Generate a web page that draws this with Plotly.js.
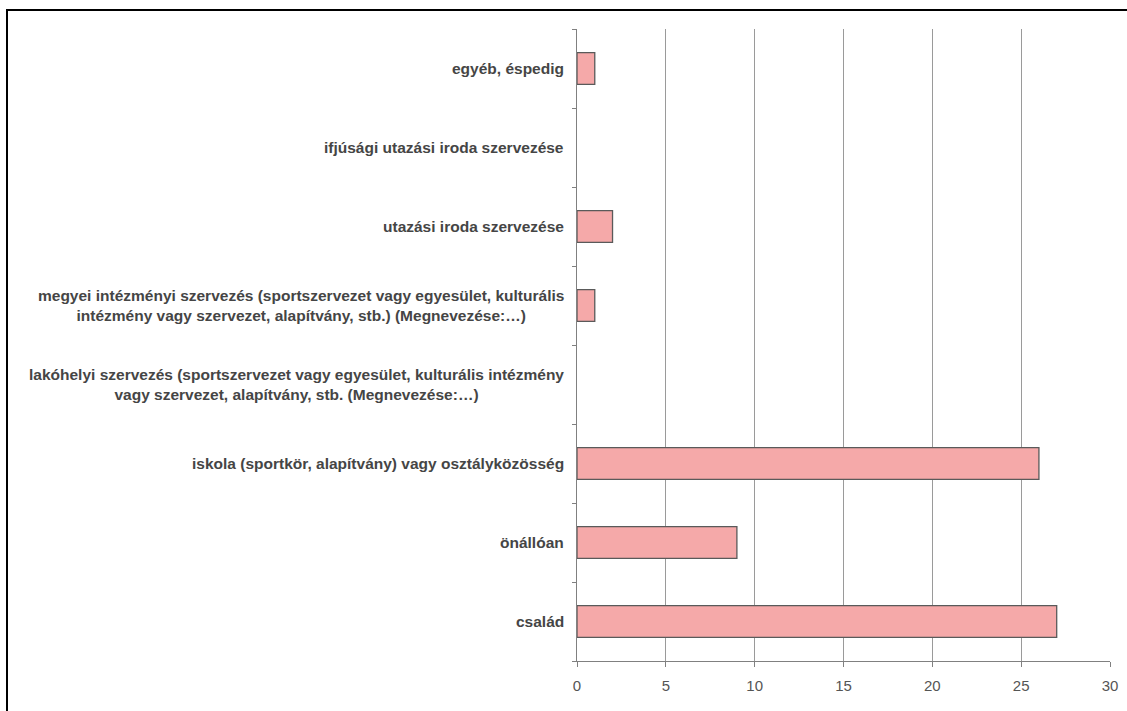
<!DOCTYPE html>
<html>
<head>
<meta charset="utf-8">
<script src="https://cdn.plot.ly/plotly-3.0.1.min.js"></script>
<style>
  html, body { margin: 0; padding: 0; background: #fff; }
  #frame { position: absolute; left: 6px; top: 9px; width: 1140px; height: 720px;
           border-left: 2px solid #000; border-top: 2px solid #000; }
  #chart { position: absolute; left: 0; top: 0; width: 1127px; height: 711px; }
</style>
</head>
<body>
<div id="frame"></div>
<div id="chart"></div>
<script>
// categories bottom to top
const categories = [
  "család",
  "önállóan",
  "iskola (sportkör, alapítvány) vagy osztályközösség",
  "lakóhelyi szervezés (sportszervezet vagy egyesület, kulturális intézmény vagy szervezet, alapítvány, stb. (Megnevezése:…)",
  "megyei intézményi szervezés (sportszervezet vagy egyesület, kulturális intézmény vagy szervezet, alapítvány, stb.) (Megnevezése:…)",
  "utazási iroda szervezése",
  "ifjúsági utazási iroda szervezése",
  "egyéb, éspedig"
];
const labelText = [
  "család",
  "önállóan",
  "iskola (sportkör, alapítvány) vagy osztályközösség",
  "lakóhelyi szervezés (sportszervezet vagy egyesület, kulturális intézmény<br>vagy szervezet, alapítvány, stb. (Megnevezése:…)",
  "megyei intézményi szervezés (sportszervezet vagy egyesület, kulturális<br>intézmény vagy szervezet, alapítvány, stb.) (Megnevezése:…)",
  "utazási iroda szervezése",
  "ifjúsági utazási iroda szervezése",
  "egyéb, éspedig"
];
const values = [27, 9, 26, 0, 1, 2, 0, 1];
const xTicks = [0, 5, 10, 15, 20, 25, 30];

const trace = {
  type: 'bar',
  orientation: 'h',
  y: categories,
  x: values,
  width: 0.4,
  marker: { color: '#F5A9A9', line: { color: '#5a5a5a', width: values.map(v => v ? 1.3 : 0) } },
  hoverinfo: 'x+y'
};

const annotations = categories.map((c, i) => ({
  xref: 'paper', yref: 'y', x: 0, y: c,
  xanchor: 'right', yanchor: 'middle',
  xshift: -11,
  text: labelText[i], showarrow: false, align: 'center',
  font: { family: 'Liberation Sans, Arial, sans-serif', size: 15.5, color: '#454545', weight: 'bold' }
}));

const layout = {
  width: 1127, height: 711,
  margin: { l: 577, r: 17, t: 29, b: 50, pad: 0 },
  paper_bgcolor: 'rgba(0,0,0,0)',
  plot_bgcolor: 'rgba(0,0,0,0)',
  showlegend: false,
  xaxis: {
    range: [0, 30], tickvals: xTicks, ticktext: xTicks.map(String),
    showgrid: true, gridcolor: '#9a9a9a', gridwidth: 1,
    zeroline: false, showline: true, linecolor: '#808080', linewidth: 1,
    ticks: 'outside', ticklen: 5, tickcolor: '#808080',
    ticklabelstandoff: 6,
    tickfont: { family: 'Liberation Sans, Arial, sans-serif', size: 15, color: '#555555' },
    fixedrange: true
  },
  yaxis: {
    type: 'category', categoryorder: 'array', categoryarray: categories,
    range: [-0.5, categories.length - 0.5],
    showticklabels: false, tickson: 'boundaries',
    ticks: 'outside', ticklen: 4, tickcolor: '#808080',
    showline: true, linecolor: '#808080', linewidth: 1,
    showgrid: false, zeroline: false, fixedrange: true
  },
  annotations: annotations
};

Plotly.newPlot('chart', [trace], layout, { displayModeBar: false, staticPlot: true });
</script>
</body>
</html>
